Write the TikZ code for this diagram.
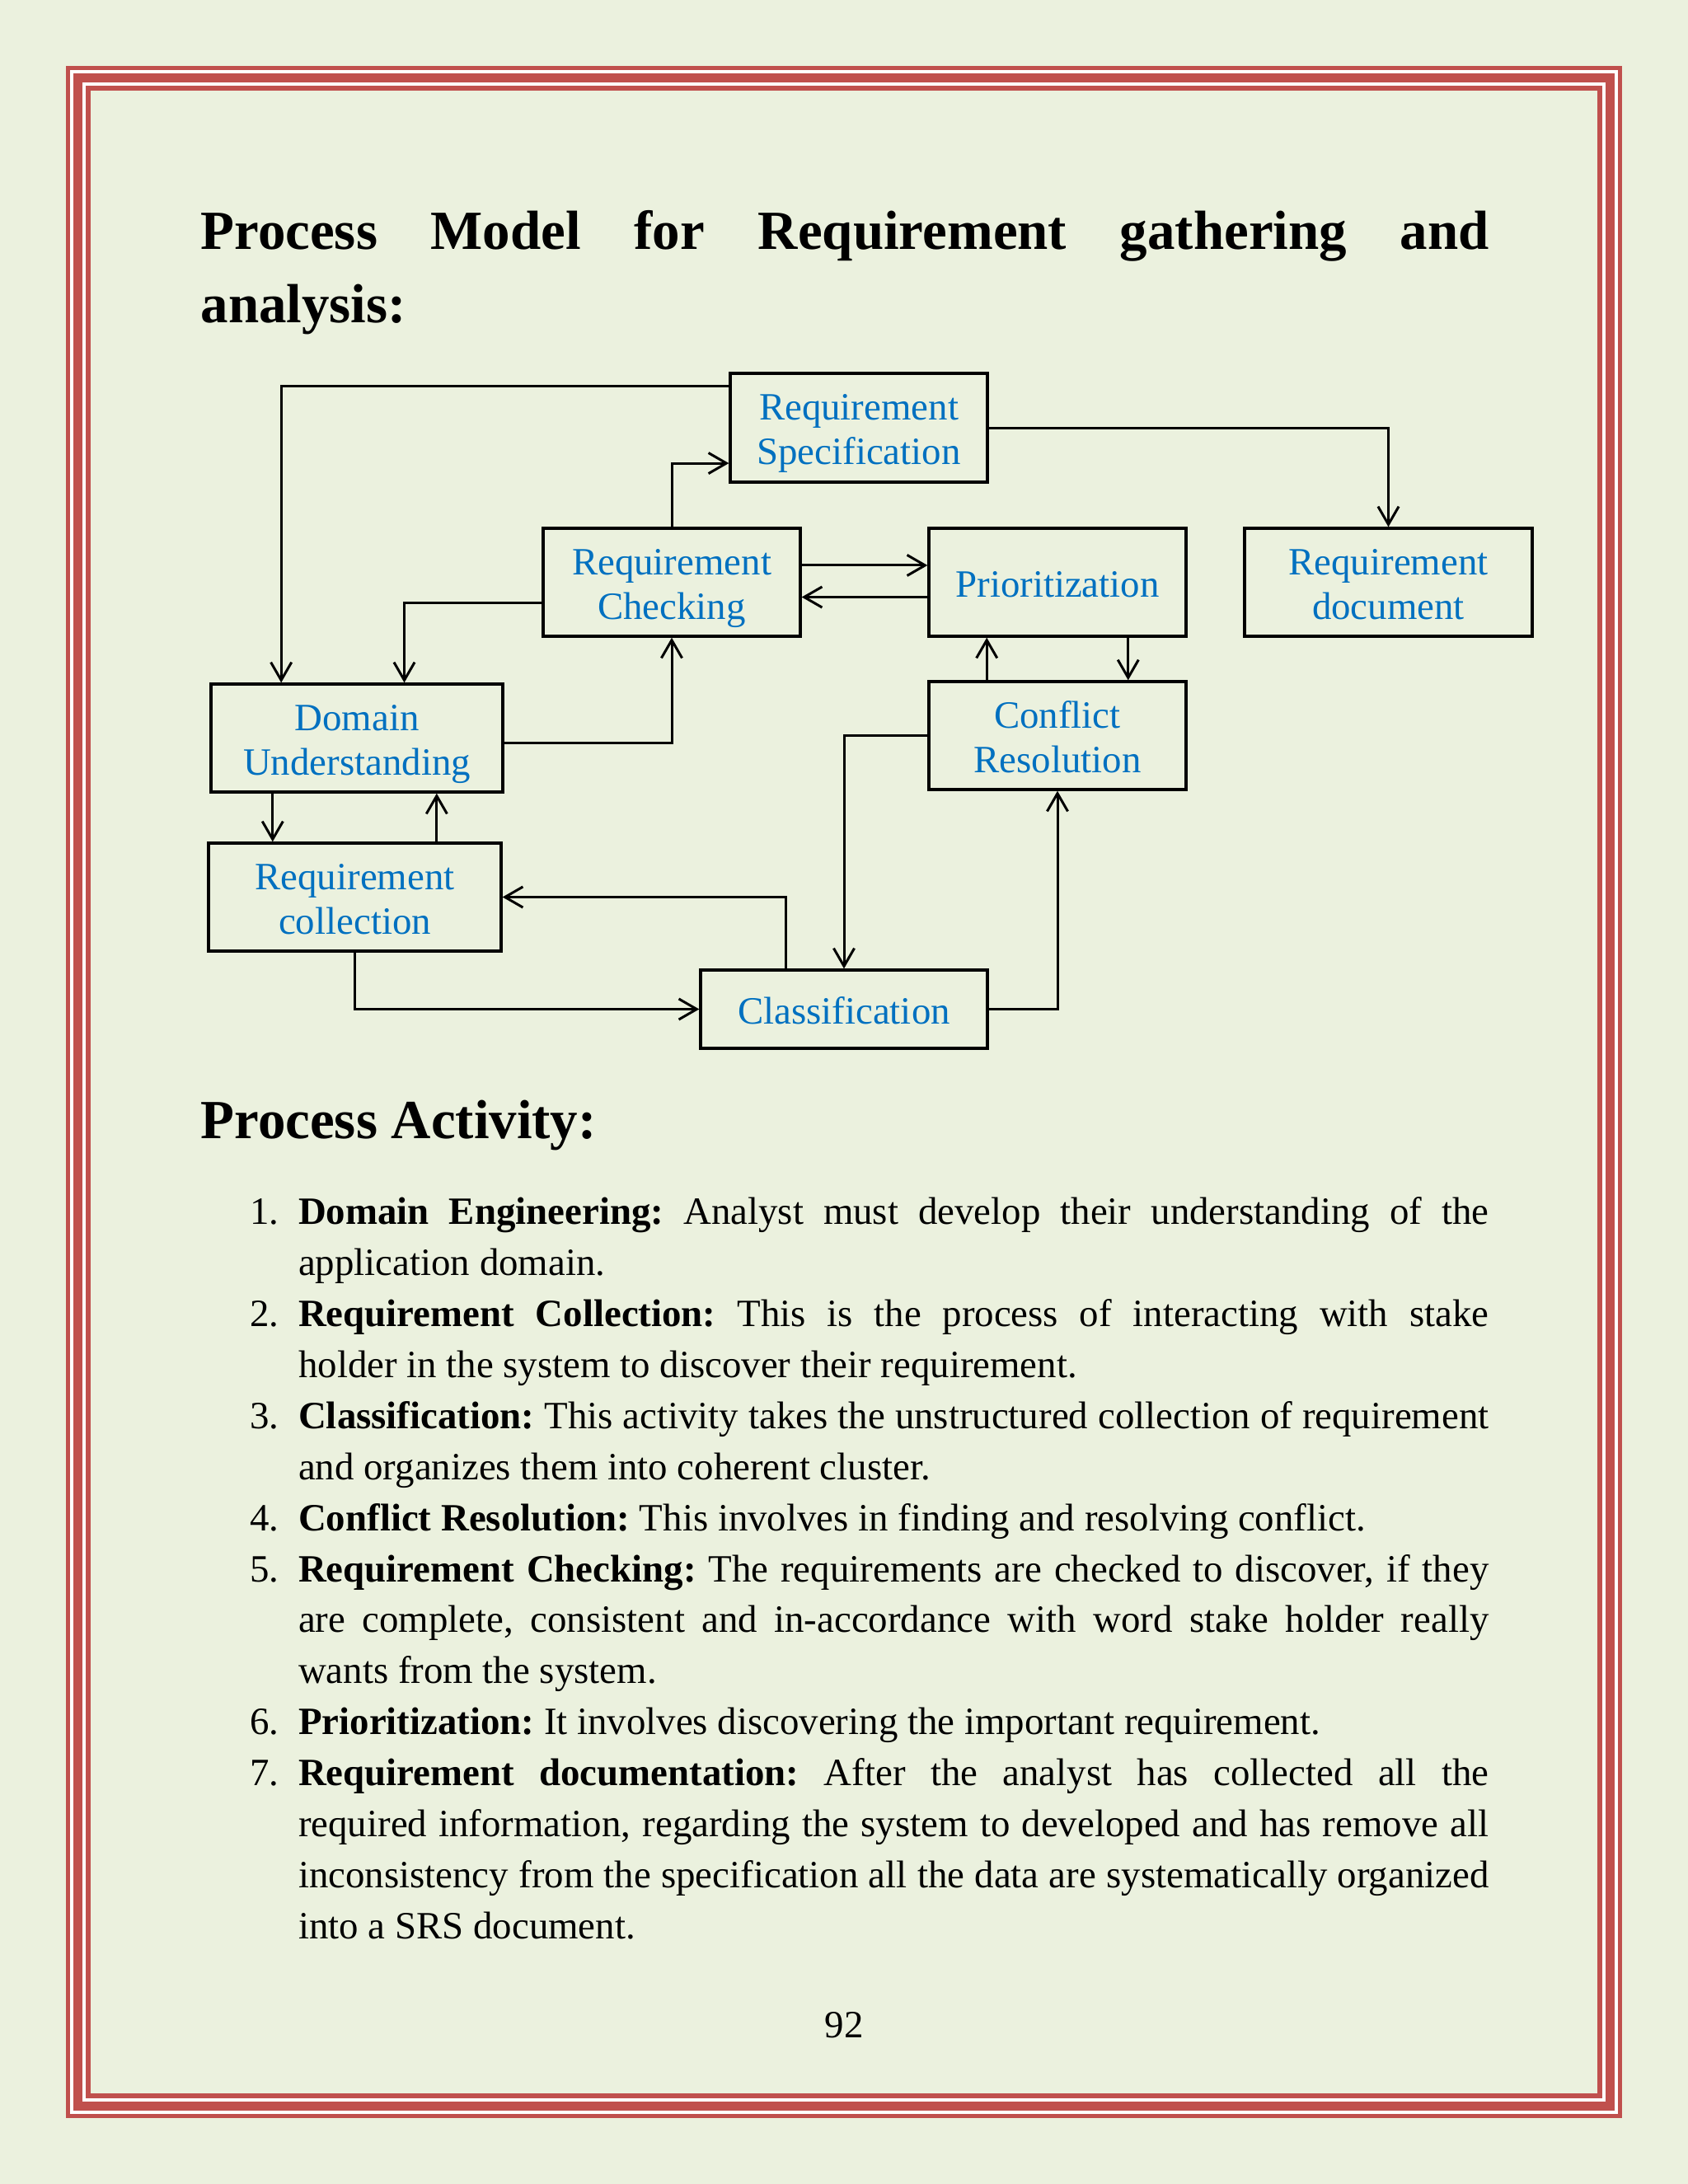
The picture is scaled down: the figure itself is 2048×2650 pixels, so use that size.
\documentclass[tikz,border=0pt]{standalone}
\usepackage{fontspec}
\setmainfont{Liberation Serif}
\usetikzlibrary{arrows.meta,fit,calc}
\definecolor{pagebg}{HTML}{EBF1DE}
\definecolor{framered}{HTML}{C0504D}
\definecolor{boxblue}{HTML}{0070C0}
\hyphenpenalty=10000
\exhyphenpenalty=10000
\frenchspacing
\begin{document}
\begin{tikzpicture}[x=0.29883pt,y=-0.29883pt,
  pbox/.style={draw=black, line width=1pt, inner sep=0pt},
  lbl/.style={font=\fontsize{14pt}{16.14pt}\selectfont, text=boxblue, align=center, inner sep=0pt, yshift=-2pt},
  arr/.style={line width=0.9pt, -{Straight Barb[length=6.5pt,width=7.5pt]}},
  headtxt/.style={font=\fontsize{20pt}{26.45pt}\selectfont\bfseries, text width=467.07pt, align=justify, inner sep=0pt, anchor=base west},
  itemtxt/.style={font=\fontsize{14pt}{18.5pt}\selectfont, text width=431.57pt, align=justify, inner sep=0pt, anchor=base west},
  numtxt/.style={font=\fontsize{14pt}{18.5pt}\selectfont, inner sep=0pt, anchor=base west}]
\useasboundingbox (0,0) rectangle (2048,2650);
% page and border
\fill[pagebg] (0,0) rectangle (2048,2650);
\fill[framered] (80,80) rectangle (1968,2570);
\fill[white] (85,85) rectangle (1963,2565);
\fill[framered] (89,89) rectangle (1959,2561);
\fill[white] (100,100) rectangle (1948,2550);
\fill[framered] (104,104) rectangle (1944,2546);
\fill[pagebg] (110,110) rectangle (1938,2540);

% headings
\node[headtxt] (h1) at (243,302.7) {Process Model for Requirement gathering and\linebreak analysis:};
\node[headtxt] (h2) at (243,1381.7) {Process Activity:};

% diagram boxes
\node[pbox, fit={(886,453) (1198,585)}] (spec) {};
\node[pbox, fit={(659,641) (971,772)}] (chk) {};
\node[pbox, fit={(1127,641) (1439,772)}] (prio) {};
\node[pbox, fit={(1510,641) (1859,772)}] (doc) {};
\node[pbox, fit={(256,830) (610,961)}] (dom) {};
\node[pbox, fit={(1127,827) (1439,958)}] (conf) {};
\node[pbox, fit={(253,1023) (608,1154)}] (coll) {};
\node[pbox, fit={(850,1177) (1198,1272)}] (cls) {};

\node[lbl] (spec-t) at (spec.center) {\strut Requirement\\Specification\strut};
\node[lbl] (chk-t) at (chk.center) {\strut Requirement\\Checking\strut};
\node[lbl] (prio-t) at (prio.center) {\strut Prioritization\strut};
\node[lbl] (doc-t) at (doc.center) {\strut Requirement\\document\strut};
\node[lbl] (dom-t) at (dom.center) {\strut Domain\\Understanding\strut};
\node[lbl] (conf-t) at (conf.center) {\strut Conflict\\Resolution\strut};
\node[lbl] (coll-t) at (coll.center) {\strut Requirement\\collection\strut};
\node[lbl] (cls-t) at (cls.center) {\strut Classification\strut};

% connector end points on box borders
\coordinate (specA) at ($(spec.north west)!0.129!(spec.south west)$);
\coordinate (specB) at ($(spec.north west)!0.818!(spec.south west)$);
\coordinate (domA) at ($(dom.north west)!0.243!(dom.north east)$);
\coordinate (domB) at ($(dom.north west)!0.661!(dom.north east)$);
\coordinate (domR) at ($(dom.north east)!0.542!(dom.south east)$);
\coordinate (domD) at ($(dom.south west)!0.214!(dom.south east)$);
\coordinate (domU) at ($(dom.south west)!0.771!(dom.south east)$);
\coordinate (chkR1) at ($(chk.north east)!0.347!(chk.south east)$);
\coordinate (chkR2) at ($(chk.north east)!0.634!(chk.south east)$);
\coordinate (chkL) at ($(chk.north west)!0.684!(chk.south west)$);
\coordinate (prioL1) at ($(prio.north west)!0.347!(prio.south west)$);
\coordinate (prioL2) at ($(prio.north west)!0.634!(prio.south west)$);
\coordinate (prioD) at ($(prio.south west)!0.772!(prio.south east)$);
\coordinate (confU) at ($(conf.north west)!0.228!(conf.north east)$);
\coordinate (clsT) at ($(cls.north west)!0.299!(cls.north east)$);

% connectors
\draw[arr] (specA) -| (domA);
\draw[arr] (chk.north) |- (specB);
\draw[arr] (chkR1) -- (prioL1);
\draw[arr] (prioL2) -- (chkR2);
\draw[arr] (chkL) -| (domB);
\draw[arr] (domR) -| (chk.south);
\draw[arr] (spec.east) -| (doc.north);
\draw[arr] (confU) -- (confU |- prio.south);
\draw[arr] (prioD) -- (prioD |- conf.north);
\draw[arr] (conf.west) -| (cls.north);
\draw[arr] (cls.east) -| (conf.south);
\draw[arr] (clsT) |- (coll.east);
\draw[arr] (coll.south) |- (cls.west);
\draw[arr] (domD) -- (domD |- coll.north);
\draw[arr] (domU |- coll.north) -- (domU);

% list
\node[numtxt] (n1) at (302.6,1485.7) {1.};
\node[itemtxt] (i1) at (361.5,1485.7) {\textbf{Domain Engineering:} Analyst must develop their understanding of the\linebreak application domain.};
\node[numtxt] (n2) at (302.6,1609.5) {2.};
\node[itemtxt] (i2) at (361.5,1609.5) {\textbf{Requirement Collection:} This is the process of interacting with stake\linebreak holder in the system to discover their requirement.};
\node[numtxt] (n3) at (302.6,1733.3) {3.};
\node[itemtxt] (i3) at (361.5,1733.3) {\textbf{Classification:} This activity takes the unstructured collection of requirement\linebreak and organizes them into coherent cluster.};
\node[numtxt] (n4) at (302.6,1857.1) {4.};
\node[itemtxt] (i4) at (361.5,1857.1) {\textbf{Conflict Resolution:} This involves in finding and resolving conflict.};
\node[numtxt] (n5) at (302.6,1919.0) {5.};
\node[itemtxt] (i5) at (361.5,1919.0) {\textbf{Requirement Checking:} The requirements are checked to discover, if they\linebreak are complete, consistent and in-accordance with word stake holder really\linebreak wants from the system.};
\node[numtxt] (n6) at (302.6,2104.7) {6.};
\node[itemtxt] (i6) at (361.5,2104.7) {\textbf{Prioritization:} It involves discovering the important requirement.};
\node[numtxt] (n7) at (302.6,2166.6) {7.};
\node[itemtxt] (i7) at (361.5,2166.6) {\textbf{Requirement documentation:} After the analyst has collected all the\linebreak required information, regarding the system to developed and has remove all\linebreak inconsistency from the specification all the data are systematically organized\linebreak into a SRS document.};

% page number
\node[numtxt, anchor=base] (pg) at (1024,2472.7) {92};
\end{tikzpicture}
\end{document}
